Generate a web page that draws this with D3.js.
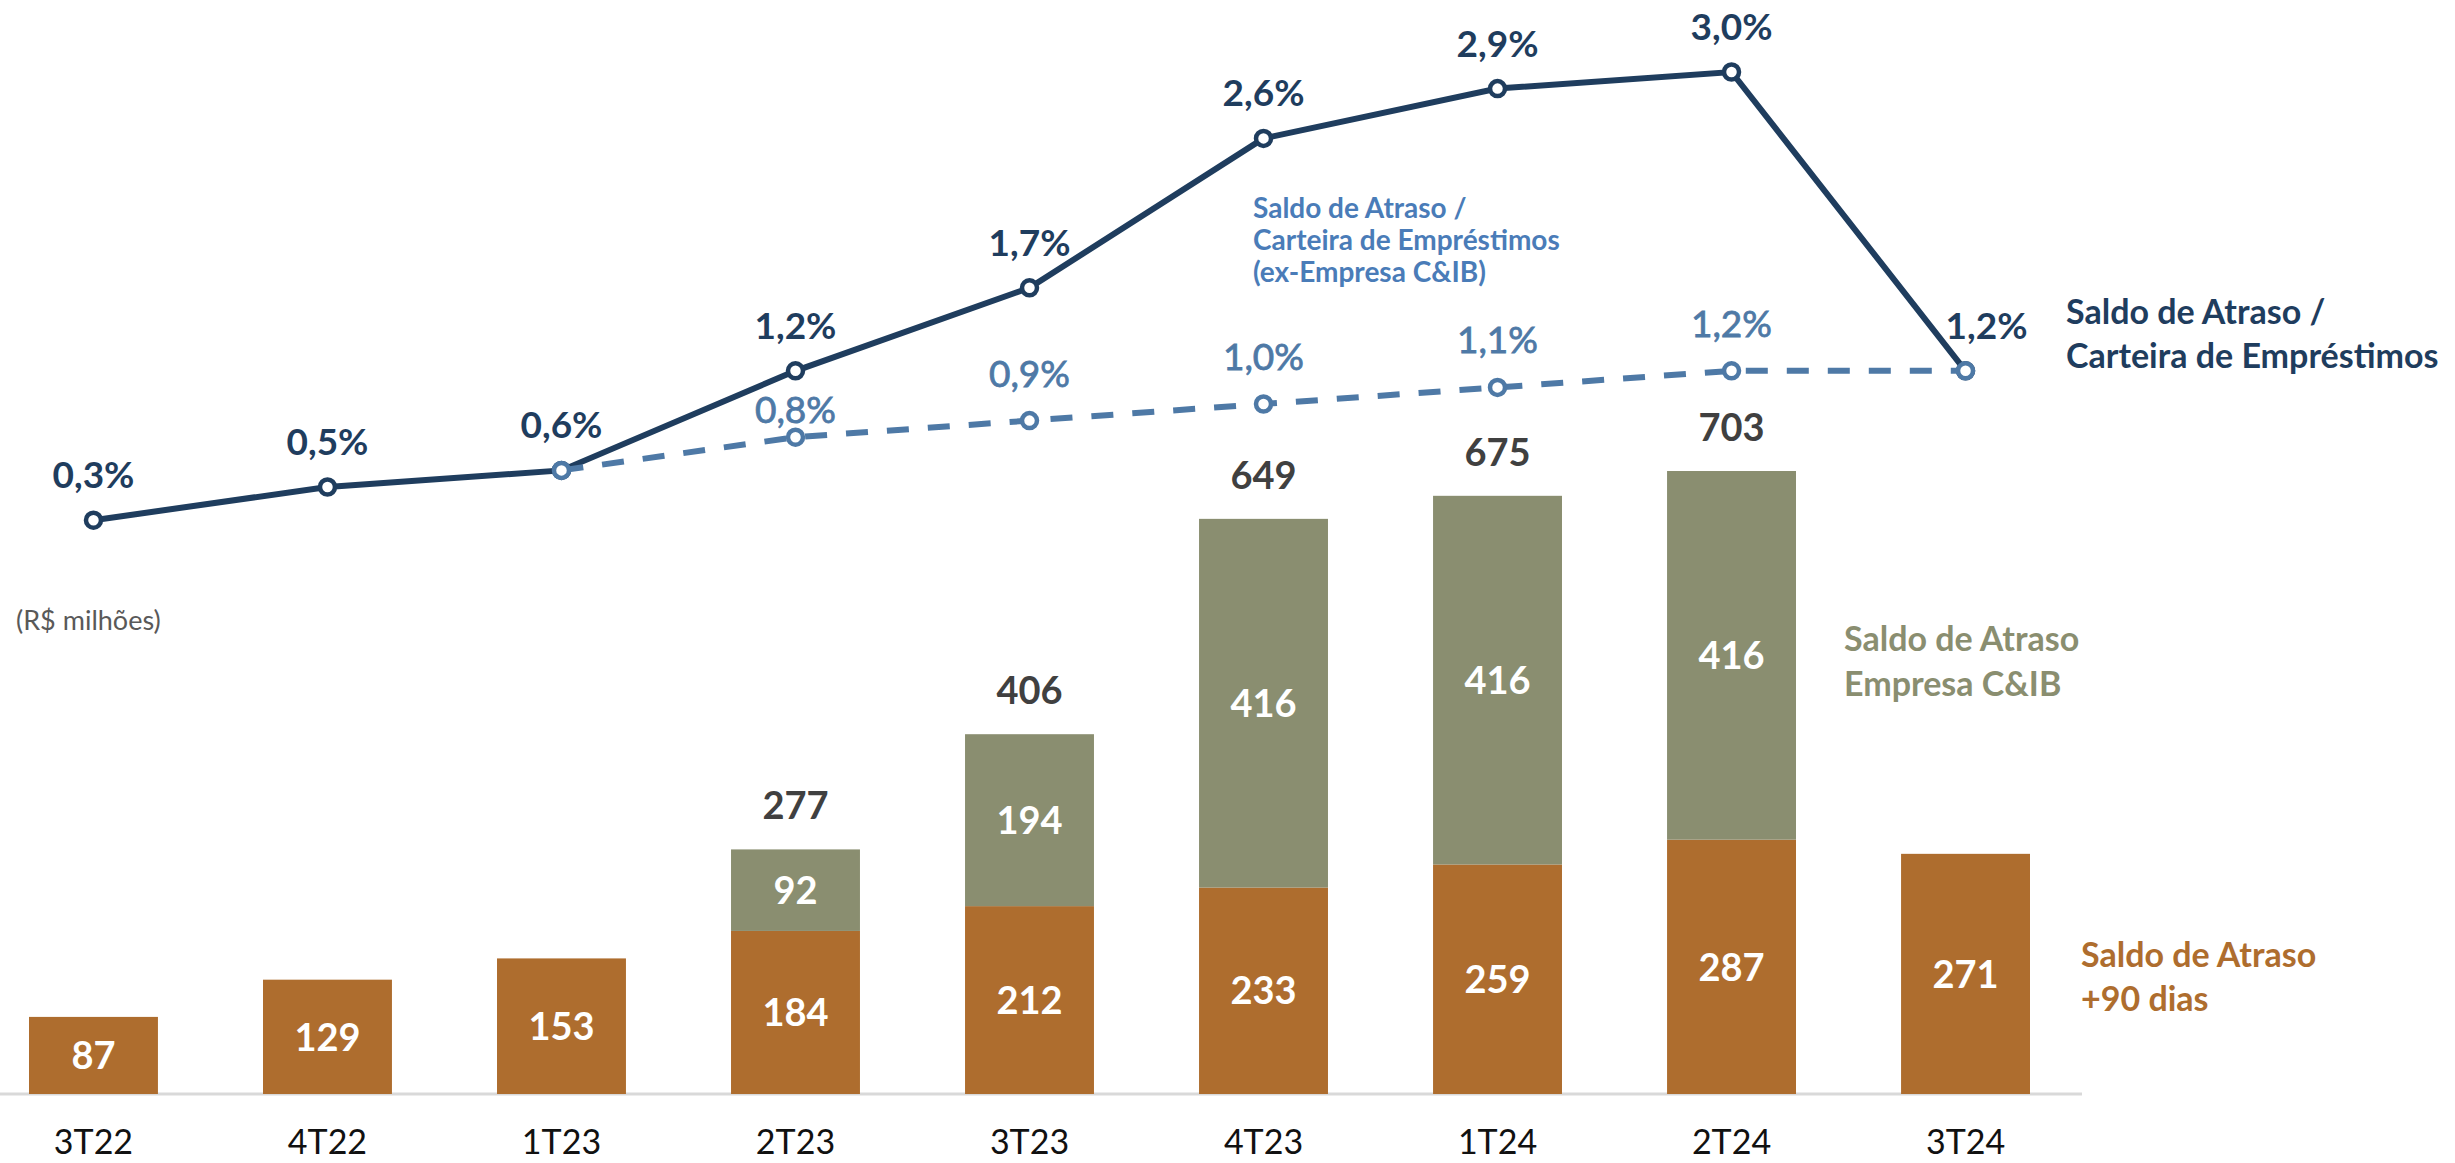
<!DOCTYPE html>
<html>
<head>
<meta charset="utf-8">
<script src="https://cdn.jsdelivr.net/npm/d3@7"></script>
<style>
  body { margin: 0; background: #fff; }
  svg { display: block; font-family: Lato, "Open Sans", sans-serif; }
</style>
</head>
<body>
<svg width="2455" height="1163"></svg>
<script>
// quarters and values
var quarters = ['3T22', '4T22', '1T23', '2T23', '3T23', '4T23', '1T24', '2T24', '3T24'];
var atraso90 = [87, 129, 153, 184, 212, 233, 259, 287, 271];
var empresaCIB = [0, 0, 0, 92, 194, 416, 416, 416, 0];
var totals = [null, null, null, 277, 406, 649, 675, 703, null];
var ratioTotal = [0.3, 0.5, 0.6, 1.2, 1.7, 2.6, 2.9, 3.0, 1.2];
var ratioExCIB = [null, null, 0.6, 0.8, 0.9, 1.0, 1.1, 1.2, 1.2];

var ORANGE = '#ae6d2e',
  OLIVE = '#8a8e70',
  NAVY = '#1f3d5e',
  STEEL = '#4e79a6';

var svg = d3.select('svg');

var x = d3.scaleBand()
  .domain(quarters)
  .range([29, 2030])
  .paddingInner(0.449)
  .paddingOuter(0);

var yBar = d3.scaleLinear().domain([0, 703]).range([1094, 471]);
var yPct = d3.scaleLinear().domain([0, 3.0]).range([570, 72]);

var cx = function (q) { return x(q) + x.bandwidth() / 2; };
var fmtPct = function (v) { return v.toFixed(1).replace('.', ',') + '%'; };

var rows = quarters.map(function (q, i) {
  return { q: q, a: atraso90[i], e: empresaCIB[i], t: totals[i] };
});

// baseline
svg.append('line')
  .attr('x1', 0).attr('x2', 2082)
  .attr('y1', yBar(0)).attr('y2', yBar(0))
  .attr('stroke', '#d9d9d9').attr('stroke-width', 3);

// x labels
var xAxis = svg.append('g')
  .attr('transform', 'translate(0,' + (yBar(0) + 36) + ')')
  .call(d3.axisBottom(x).tickSize(0).tickPadding(0));
xAxis.select('.domain').remove();
xAxis.selectAll('text')
  .attr('font-family', 'Lato, sans-serif')
  .attr('font-size', 34)
  .attr('fill', '#111');

var bars = svg.append('g');

// +90 dias segment
bars.selectAll('rect.a')
  .data(rows)
  .enter().append('rect')
  .attr('class', 'a')
  .attr('x', function (d) { return x(d.q); })
  .attr('width', x.bandwidth())
  .attr('y', function (d) { return yBar(d.a); })
  .attr('height', function (d) { return yBar(0) - yBar(d.a); })
  .attr('fill', ORANGE);

// Empresa C&IB segment
bars.selectAll('rect.e')
  .data(rows.filter(function (d) { return d.e > 0; }))
  .enter().append('rect')
  .attr('class', 'e')
  .attr('x', function (d) { return x(d.q); })
  .attr('width', x.bandwidth())
  .attr('y', function (d) { return yBar(d.a + d.e); })
  .attr('height', function (d) { return yBar(d.a) - yBar(d.a + d.e); })
  .attr('fill', OLIVE);

// segment labels
bars.selectAll('text.a')
  .data(rows)
  .enter().append('text')
  .attr('class', 'a')
  .attr('x', function (d) { return cx(d.q); })
  .attr('y', function (d) { return (yBar(0) + yBar(d.a)) / 2; })
  .attr('dy', '0.36em')
  .attr('text-anchor', 'middle')
  .attr('font-size', 38).attr('font-weight', 700)
  .attr('fill', '#fff')
  .text(function (d) { return d.a; });

bars.selectAll('text.e')
  .data(rows.filter(function (d) { return d.e > 0; }))
  .enter().append('text')
  .attr('class', 'e')
  .attr('x', function (d) { return cx(d.q); })
  .attr('y', function (d) { return (yBar(d.a) + yBar(d.a + d.e)) / 2; })
  .attr('dy', '0.36em')
  .attr('text-anchor', 'middle')
  .attr('font-size', 38).attr('font-weight', 700)
  .attr('fill', '#fff')
  .text(function (d) { return d.e; });

// totals
bars.selectAll('text.t')
  .data(rows.filter(function (d) { return d.t != null; }))
  .enter().append('text')
  .attr('class', 't')
  .attr('x', function (d) { return cx(d.q); })
  .attr('y', function (d) { return yBar(d.a + d.e) - 30; })
  .attr('text-anchor', 'middle')
  .attr('font-size', 38).attr('font-weight', 700)
  .attr('fill', '#404040')
  .text(function (d) { return d.t; });

// lines
var line = d3.line()
  .defined(function (d) { return d.v != null; })
  .x(function (d) { return cx(d.q); })
  .y(function (d) { return yPct(d.v); });

var tot = quarters.map(function (q, i) { return { q: q, v: ratioTotal[i], i: i }; });
var exc = quarters.map(function (q, i) { return { q: q, v: ratioExCIB[i], i: i }; });

svg.append('path')
  .datum(tot)
  .attr('d', line)
  .attr('fill', 'none')
  .attr('stroke', NAVY)
  .attr('stroke-width', 6);

svg.selectAll('circle.tot')
  .data(tot)
  .enter().append('circle')
  .attr('class', 'tot')
  .attr('cx', function (d) { return cx(d.q); })
  .attr('cy', function (d) { return yPct(d.v); })
  .attr('r', 7.5)
  .attr('fill', '#fff')
  .attr('stroke', NAVY)
  .attr('stroke-width', 4.5);

svg.append('path')
  .datum(exc)
  .attr('d', line)
  .attr('fill', 'none')
  .attr('stroke', STEEL)
  .attr('stroke-width', 6)
  .attr('stroke-dasharray', '22,19');

svg.selectAll('circle.exc')
  .data(exc.filter(function (d) { return d.v != null; }))
  .enter().append('circle')
  .attr('class', 'exc')
  .attr('cx', function (d) { return cx(d.q); })
  .attr('cy', function (d) { return yPct(d.v); })
  .attr('r', 7.5)
  .attr('fill', '#fff')
  .attr('stroke', STEEL)
  .attr('stroke-width', 4.5);

svg.selectAll('text.tot')
  .data(tot)
  .enter().append('text')
  .attr('class', 'tot')
  .attr('x', function (d) { return cx(d.q) + (d.i === 8 ? 21 : 0); })
  .attr('y', function (d) { return yPct(d.v) - 32; })
  .attr('text-anchor', 'middle')
  .attr('font-size', 37).attr('font-weight', 700)
  .attr('fill', NAVY)
  .text(function (d) { return fmtPct(d.v); });

svg.selectAll('text.exc')
  .data(exc.filter(function (d) { return d.v != null && d.i > 2 && d.i < 8; }))
  .enter().append('text')
  .attr('class', 'exc')
  .attr('x', function (d) { return cx(d.q); })
  .attr('y', function (d) { return yPct(d.v) - (d.i === 3 ? 14 : 34); })
  .attr('text-anchor', 'middle')
  .attr('font-size', 37)
  .attr('fill', STEEL)
  .attr('stroke', STEEL)
  .attr('stroke-width', 0.8)
  .text(function (d) { return fmtPct(d.v); });

// notes and legends
function block(lines, px, py, lh, size, color, weight) {
  var t = svg.append('text')
    .attr('x', px).attr('y', py)
    .attr('font-size', size)
    .attr('font-weight', weight)
    .attr('fill', color);
  lines.forEach(function (s, k) {
    t.append('tspan').attr('x', px).attr('y', py + k * lh).text(s);
  });
}

block(['(R$ milhões)'], 16, 630, 0, 27, '#595959', 400);
block(['Saldo de Atraso /', 'Carteira de Empréstimos'], 2066, 324, 44, 34, NAVY, 700);
block(['Saldo de Atraso /', 'Carteira de Empréstimos', '(ex-Empresa C&IB)'], 1253, 218, 32, 28, '#4a7cb8', 700);
block(['Saldo de Atraso', 'Empresa C&IB'], 1844, 651, 45, 34, OLIVE, 700);
block(['Saldo de Atraso', '+90 dias'], 2081, 967, 44, 34, ORANGE, 700);
</script>
</body>
</html>
